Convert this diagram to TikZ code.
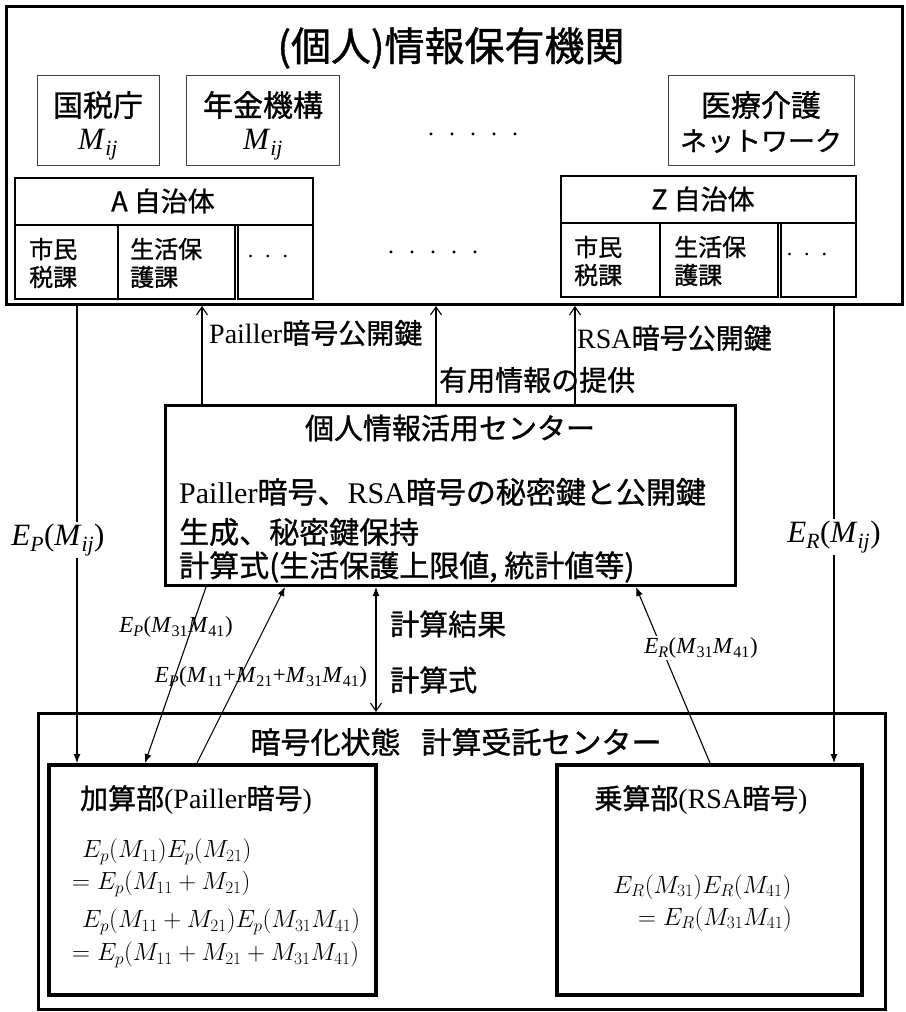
\documentclass[tikz,border=0pt]{standalone}
\usepackage[no-math]{fontspec}
\setmainfont{Liberation Serif}
\newfontfamily\jp[FakeBold=1.0]{Noto Sans CJK JP}
\usetikzlibrary{arrows.meta}
\newcommand\fs[1]{\fontsize{#1}{#1}\selectfont}
\newcommand\Mij{\textit{M}\textsubscript{\textit{ij}}}
\newcommand\Ms[1]{\textit{M}\textsubscript{#1}}
\newcommand\Es[1]{\textit{E}\textsubscript{\textit{#1}}}
\begin{document}
\begin{tikzpicture}[x=1pt,y=-1pt,
  bigbox/.style={draw, anchor=north west, inner sep=0pt, line width=3pt},
  subbox/.style={draw, anchor=north west, inner sep=0pt, line width=4pt},
  orgbox/.style={draw=black!75, anchor=north west, inner sep=0pt, line width=1.3pt},
  cellbox/.style={draw, anchor=north west, inner sep=0pt, line width=1.8pt},
  txt/.style={inner sep=0pt},
  conn/.style={line width=1.1pt},
  tipF/.tip={Latex[length=9pt,width=7pt]},
  tipO/.tip={Straight Barb[length=8pt,width=11pt]},
  cutlbl/.style={inner sep=2pt, fill=white}]
\useasboundingbox (0,0) rectangle (905,1012);

% ---------- boxes ----------
\node[bigbox, minimum width=896pt, minimum height=298pt] (top) at (5,5) {};
\node[orgbox, minimum width=122pt, minimum height=90pt] (kokuzei) at (37,75) {};
\node[orgbox, minimum width=153pt, minimum height=90pt] (nenkin) at (186,75) {};
\node[orgbox, minimum width=186pt, minimum height=90pt] (iryo) at (668,75) {};
\node[cellbox, minimum width=298pt, minimum height=47pt] (Ahead) at (14,177) {};
\node[cellbox, minimum width=103pt, minimum height=74pt] (Ac1) at (14,224) {};
\node[cellbox, minimum width=117pt, minimum height=74pt] (Ac2) at (117,224) {};
\node[cellbox, minimum width=75pt, minimum height=74pt] (Ac3) at (237,224) {};
\node[cellbox, minimum width=295pt, minimum height=47pt] (Zhead) at (560,175) {};
\node[cellbox, minimum width=99pt, minimum height=74pt] (Zc1) at (560,222) {};
\node[cellbox, minimum width=118pt, minimum height=74pt] (Zc2) at (659,222) {};
\node[cellbox, minimum width=75pt, minimum height=74pt] (Zc3) at (780,222) {};
\node[bigbox, minimum width=570pt, minimum height=180pt] (center) at (164,404) {};
\node[bigbox, minimum width=847pt, minimum height=296pt] (bottom) at (37,712) {};
\node[subbox, minimum width=327pt, minimum height=230pt] (add) at (47,763) {};
\node[subbox, minimum width=305pt, minimum height=230pt] (mul) at (555,763) {};

% ---------- texts in boxes ----------
\node[txt, font=\jp\fs{40}] (title) at (451,48) {(個人)情報保有機関};
\node[txt, font=\jp\fs{30}] (kzt) at (98,105) {国税庁};
\node[txt, font=\fs{31}] (kzm) at (98,145) {\Mij};
\node[txt, font=\jp\fs{30}] (nkt) at (263,105) {年金機構};
\node[txt, font=\fs{31}] (nkm) at (263,145) {\Mij};
\node[txt, font=\jp\fs{30}] (iryo1) at (761,105) {医療介護};
\node[txt, font=\jp\fs{27}] (iryo2) at (761,141) {ネットワーク};
\node[txt, font=\fs{24}] (dots1) at (473,134) {.\hspace{15pt}.\hspace{15pt}.\hspace{15pt}.\hspace{15pt}.};
\node[txt, font=\fs{24}] (dots2) at (433,252) {.\hspace{15pt}.\hspace{15pt}.\hspace{15pt}.\hspace{15pt}.};
\node[txt, font=\jp\fs{27}] (Aht) at (163,201) {A 自治体};
\node[txt, font=\jp\fs{27}] (Zht) at (703,199) {Z 自治体};
\node[txt, font=\jp\fontsize{24}{28}\selectfont, align=left, anchor=west] (Ac1t) at (29,263) {市民\\税課};
\node[txt, font=\jp\fontsize{24}{28}\selectfont, align=left, anchor=west] (Ac2t) at (130,263) {生活保\\護課};
\node[txt, font=\fs{22}] (Ac3t) at (268,257) {.\hspace{12pt}.\hspace{12pt}.};
\node[txt, font=\jp\fontsize{24}{28}\selectfont, align=left, anchor=west] (Zc1t) at (574,261) {市民\\税課};
\node[txt, font=\jp\fontsize{24}{28}\selectfont, align=left, anchor=west] (Zc2t) at (674,261) {生活保\\護課};
\node[txt, font=\fs{22}] (Zc3t) at (807,255) {.\hspace{12pt}.\hspace{12pt}.};

\node[txt, font=\jp\fs{29}] (ct) at (450,428) {個人情報活用センター};
\node[txt, font=\fs{30}, anchor=west] (cl1) at (179,492) {Pailler{\jp 暗号、}RSA{\jp 暗号の秘密鍵と公開鍵}};
\node[txt, font=\jp\fs{30}, anchor=west] (cl2) at (179,532) {生成、秘密鍵保持};
\node[txt, font=\jp\fs{30}, anchor=west] (cl3) at (179,567) {計算式(生活保護上限値, 統計値等)};

\node[txt, font=\jp\fs{30}] (bt) at (456,742) {暗号化状態\hspace{0.7em}計算受託センター};
\node[txt, font=\fs{28}] (addt) at (196,800) {{\jp 加算部}(Pailler{\jp 暗号})};
\node[txt, font=\fs{28}] (mult) at (701,800) {{\jp 乗算部}(RSA{\jp 暗号})};
\node[txt, font=\fs{24}, anchor=west] (eq1) at (82,852) {$E_p(M_{11})E_p(M_{21})$};
\node[txt, font=\fs{24}, anchor=west] (eq2) at (72,884) {$=E_p(M_{11}+M_{21})$};
\node[txt, font=\fs{24}, anchor=west] (eq3) at (82,922) {$E_p(M_{11}+M_{21})E_p(M_{31}M_{41})$};
\node[txt, font=\fs{24}, anchor=west] (eq4) at (72,955) {$=E_p(M_{11}+M_{21}+M_{31}M_{41})$};
\node[txt, font=\fs{24}, anchor=west] (eq5) at (613,887) {$E_R(M_{31})E_R(M_{41})$};
\node[txt, font=\fs{24}, anchor=west] (eq6) at (638,919) {$=E_R(M_{31}M_{41})$};

% ---------- connector x positions ----------
\coordinate (xA) at (77,0);
\coordinate (xP) at (202,0);
\coordinate (xU) at (436,0);
\coordinate (xS) at (575,0);
\coordinate (xR) at (834,0);
\coordinate (xD) at (376,0);
\coordinate (d1a) at (206,0);
\coordinate (d1b) at (145,0);
\coordinate (d2a) at (197,0);
\coordinate (d2b) at (285,0);
\coordinate (d3a) at (710,0);
\coordinate (d3b) at (636,0);

% ---------- connectors ----------
\draw[conn, -tipF] (top.south -| xA) -- (add.north -| xA);
\draw[conn, -tipF] (top.south -| xR) -- (mul.north -| xR);
\draw[conn, -tipO] (center.north -| xP) -- (top.south -| xP);
\draw[conn, -tipO] (center.north -| xU) -- (top.south -| xU);
\draw[conn, -tipO] (center.north -| xS) -- (top.south -| xS);
\draw[conn, tipF-tipO] (center.south -| xD) -- (bottom.north -| xD);
\draw[conn, -tipF] (center.south -| d1a) -- (add.north -| d1b);
\draw[conn, -tipF] (add.north -| d2a) -- (center.south -| d2b);
\draw[conn, -tipF] (mul.north -| d3a) -- (center.south -| d3b);

% ---------- connector labels ----------
\node[txt, font=\fs{28}, anchor=west] (lP) at (209,333) {Pailler{\jp 暗号公開鍵}};
\node[txt, font=\jp\fs{28}, anchor=west] (lU) at (439,380) {有用情報の提供};
\node[txt, font=\fs{28}, anchor=west] (lS) at (577,338) {RSA{\jp 暗号公開鍵}};
\node[cutlbl, font=\fs{31}] (lEP) at (58,540) {\Es{P}(\Mij)};
\node[cutlbl, font=\fs{31}] (lER) at (834,537) {\Es{R}(\Mij)};
\node[txt, font=\fs{23}] (l1) at (176,627) {\Es{P}(\Ms{31}\Ms{41})};
\node[txt, font=\fs{23}] (l2) at (261,677) {\Es{P}(\Ms{11}+\Ms{21}+\Ms{31}\Ms{41})};
\node[cutlbl, font=\fs{23}] (l3) at (701,648) {\Es{R}(\Ms{31}\Ms{41})};
\node[txt, font=\jp\fs{29}, anchor=west] (lK1) at (390,624) {計算結果};
\node[txt, font=\jp\fs{29}, anchor=west] (lK2) at (390,680) {計算式};
\end{tikzpicture}
\end{document}
